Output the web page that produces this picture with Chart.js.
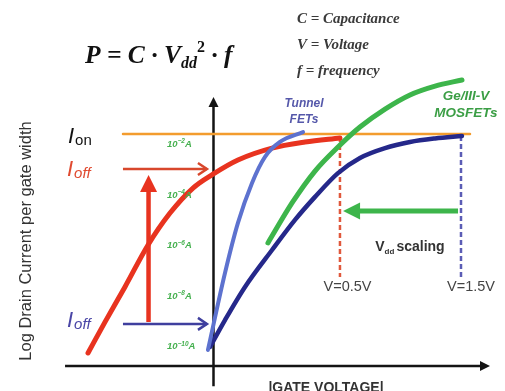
<!DOCTYPE html>
<html>
<head>
<meta charset="utf-8">
<script src="https://cdn.jsdelivr.net/npm/chart.js@4.4.0/dist/chart.umd.min.js"></script>
<style>
  html, body { margin: 0; padding: 0; background: #fff; }
  #wrap { width: 505px; height: 391px; }
</style>
</head>
<body>
<div id="wrap"><canvas id="chart" width="505" height="391"></canvas></div>
<script>
// Gate voltage (a.u.) vs log10 drain current per gate width (A)

// plot window
const X_MIN = -1.7287, X_MAX = 2.3603;
const Y_MIN = -11.783, Y_MAX = 3.672;

// y tick labels: 10^exp A
const tickLogI = [-2, -4, -6, -8, -10];
const tickExp = ["\u22122", "\u22124", "\u22126", "\u22128", "\u221210"];

// conventional MOSFET, high Ioff at low Vdd
const redV = [-1.016, -0.879, -0.717, -0.530, -0.352, -0.166, -0.004, 0.198, 0.474, 0.741, 1.024];
const redLogI = [-10.28, -9.06, -7.67, -6.01, -4.75, -3.76, -3.21, -2.65, -2.18, -1.94, -1.78];

// tunnel FET
const tunnelV = [-0.045, 0.093, 0.198, 0.312, 0.417, 0.538, 0.725];
const tunnelLogI = [-10.16, -7.12, -5.14, -3.56, -2.53, -1.94, -1.55];

// conventional MOSFET at Vdd = 1.5V
const navyV = [-0.028, 0.093, 0.255, 0.474, 0.660, 0.822, 1.008, 1.186, 1.389, 1.591, 1.794, 2.012];
const navyLogI = [-10.04, -8.98, -7.67, -6.21, -5.02, -4.11, -3.17, -2.57, -2.18, -1.94, -1.80, -1.70];

// Ge / III-V MOSFET
const greenV = [0.441, 0.636, 0.822, 1.008, 1.186, 1.389, 1.591, 1.794, 2.012];
const greenLogI = [-5.93, -4.35, -3.09, -2.14, -1.35, -0.64, -0.08, 0.27, 0.51];

// Ion level
const ionLogI = -1.62;
const ionV = [-0.733, 2.077];

// Vdd markers
const vddV = [1.024, 2.004];
const vddTopLogI = [-1.74, -1.70];
const vddBottomLogI = -7.28;
const vddLabels = ["V=0.5V", "V=1.5V"];

function pts(xs, ys) {
  return xs.map((v, i) => ({ x: v, y: ys[i] }));
}

function curve(label, xs, ys, color, width, order) {
  return {
    label,
    data: pts(xs, ys),
    showLine: true,
    borderColor: color,
    borderWidth: width,
    borderCapStyle: "round",
    cubicInterpolationMode: "monotone",
    pointRadius: 0,
    order,
  };
}

function drawLine(ctx, x1, y1, x2, y2) {
  ctx.beginPath();
  ctx.moveTo(x1, y1);
  ctx.lineTo(x2, y2);
  ctx.stroke();
}

function filledHead(ctx, tx, ty, ang, len, half) {
  ctx.save();
  ctx.translate(tx, ty);
  ctx.rotate(ang);
  ctx.beginPath();
  ctx.moveTo(0, 0);
  ctx.lineTo(-len, -half);
  ctx.lineTo(-len, half);
  ctx.closePath();
  ctx.fill();
  ctx.restore();
}

function openHead(ctx, tx, ty, ang, len, half) {
  ctx.save();
  ctx.translate(tx, ty);
  ctx.rotate(ang);
  ctx.beginPath();
  ctx.moveTo(-len, -half);
  ctx.lineTo(0, 0);
  ctx.lineTo(-len, half);
  ctx.stroke();
  ctx.restore();
}

// draw text pieces one after the other
function runs(ctx, x, y, parts, align) {
  let total = 0;
  parts.forEach((p) => {
    ctx.font = p.font;
    total += ctx.measureText(p.t).width + (p.gap || 0);
  });
  let cx = align === "center" ? x - total / 2 : x;
  ctx.textAlign = "left";
  parts.forEach((p) => {
    ctx.font = p.font;
    if (p.color) ctx.fillStyle = p.color;
    ctx.fillText(p.t, cx, y + (p.dy || 0));
    cx += ctx.measureText(p.t).width + (p.gap || 0);
  });
}

const overlay = {
  id: "overlay",
  beforeDatasetsDraw(chart) {
    const { ctx } = chart;
    const x = chart.scales.x, y = chart.scales.y;
    ctx.save();
    ctx.strokeStyle = "#141414";
    ctx.fillStyle = "#141414";
    ctx.lineWidth = 2.5;

    // vertical axis with arrow
    const ax = x.getPixelForValue(0);
    const topY = y.getPixelForValue(-0.16);
    drawLine(ctx, ax, y.getPixelForValue(-11.6), ax, topY + 8);
    filledHead(ctx, ax, topY, -Math.PI / 2, 10, 5);

    // horizontal axis with arrow
    const ay = y.getPixelForValue(-10.79);
    const rightX = x.getPixelForValue(2.239);
    drawLine(ctx, x.getPixelForValue(-1.202), ay, rightX - 8, ay);
    filledHead(ctx, rightX, ay, 0, 10, 5);

    // Vdd dashed markers
    ctx.lineWidth = 2.5;
    ctx.setLineDash([5, 3]);
    const dashColors = ["#e0583c", "#5b5db5"];
    vddV.forEach((v, i) => {
      ctx.strokeStyle = dashColors[i];
      drawLine(ctx, x.getPixelForValue(v), y.getPixelForValue(vddTopLogI[i]),
        x.getPixelForValue(v), y.getPixelForValue(vddBottomLogI));
    });
    ctx.setLineDash([]);
    ctx.restore();
  },
  afterDatasetsDraw(chart) {
    const { ctx } = chart;
    const x = chart.scales.x, y = chart.scales.y;
    ctx.save();
    ctx.textBaseline = "alphabetic";

    // y tick labels
    ctx.fillStyle = "#45b04f";
    tickLogI.forEach((l, i) => {
      const py = y.getPixelForValue(l) + 3.5;
      runs(ctx, x.getPixelForValue(-0.377), py, [
        { t: "10", font: "italic bold 9.5px Arial" },
        { t: tickExp[i], font: "italic bold 6.5px Arial", dy: -3.5 },
        { t: "A", font: "italic bold 9.5px Arial" },
      ]);
    });

    // big red arrow (Ioff increase)
    ctx.strokeStyle = "#e8331f";
    ctx.fillStyle = "#e8331f";
    ctx.lineWidth = 4.5;
    const rx = x.getPixelForValue(-0.526);
    const rTip = y.getPixelForValue(-3.25);
    drawLine(ctx, rx, y.getPixelForValue(-9.06), rx, rTip + 14);
    filledHead(ctx, rx, rTip, -Math.PI / 2, 17, 8.5);

    // thin Ioff arrows
    ctx.lineWidth = 2.5;
    ctx.strokeStyle = "#d8472c";
    let hy = y.getPixelForValue(-3.01);
    let x1 = x.getPixelForValue(-0.733), x2 = x.getPixelForValue(-0.053);
    drawLine(ctx, x1, hy, x2, hy);
    openHead(ctx, x2, hy, 0, 9, 6);
    ctx.strokeStyle = "#3f3f9e";
    hy = y.getPixelForValue(-9.13);
    drawLine(ctx, x1, hy, x2, hy);
    openHead(ctx, x2, hy, 0, 9, 6);

    // Vdd scaling arrow
    ctx.strokeStyle = "#3db54b";
    ctx.fillStyle = "#3db54b";
    ctx.lineWidth = 5;
    hy = y.getPixelForValue(-4.67);
    const gTip = x.getPixelForValue(1.049);
    drawLine(ctx, x.getPixelForValue(1.980), hy, gTip + 14, hy);
    filledHead(ctx, gTip, hy, Math.PI, 17, 8.5);

    // Vdd labels
    ctx.fillStyle = "#444";
    ctx.textAlign = "center";
    ctx.font = "14.5px Arial";
    const vLabelY = y.getPixelForValue(-7.85);
    ctx.fillText(vddLabels[0], x.getPixelForValue(1.085), vLabelY);
    ctx.fillText(vddLabels[1], x.getPixelForValue(2.085), vLabelY);

    runs(ctx, x.getPixelForValue(1.31), y.getPixelForValue(-6.25), [
      { t: "V", font: "bold 14px Arial", color: "#333" },
      { t: "dd", font: "bold 8px Arial", dy: 3, gap: 2 },
      { t: "scaling", font: "bold 14px Arial" },
    ]);

    // I labels
    runs(ctx, 68, 143, [
      { t: "I", font: "italic 22px Arial", color: "#111", gap: 1 },
      { t: "on", font: "15px Arial", dy: 2 },
    ]);
    runs(ctx, 67, 176, [
      { t: "I", font: "italic 22px Arial", color: "#e04a30", gap: 1 },
      { t: "off", font: "italic 15px Arial", dy: 2 },
    ]);
    runs(ctx, 67, 327, [
      { t: "I", font: "italic 22px Arial", color: "#4a46a6", gap: 1 },
      { t: "off", font: "italic 15px Arial", dy: 2 },
    ]);

    // curve labels
    ctx.textAlign = "center";
    ctx.fillStyle = "#5558aa";
    ctx.font = "italic bold 12px Arial";
    ctx.fillText("Tunnel", 304, 107);
    ctx.fillText("FETs", 304, 123);
    ctx.fillStyle = "#3b9e45";
    ctx.font = "italic bold 13.5px Arial";
    ctx.fillText("Ge/III-V", 466, 100);
    ctx.fillText("MOSFETs", 466, 117);

    // power formula
    const serif = '"Liberation Serif"';
    runs(ctx, 85, 63, [
      { t: "P = C \u00b7 V", font: "italic bold 25.5px " + serif, color: "#111" },
      { t: "dd", font: "italic bold 16px " + serif, dy: 5 },
      { t: "2", font: "bold 16px " + serif, dy: -11 },
      { t: " \u00b7 f", font: "italic bold 25.5px " + serif },
    ]);

    ctx.fillStyle = "#3a3a3a";
    ctx.font = "italic bold 15px " + serif;
    ctx.textAlign = "left";
    ctx.fillText("C = Capacitance", 297, 23);
    ctx.fillText("V = Voltage", 297, 49);
    ctx.fillText("f = frequency", 297, 75);

    // axis titles
    ctx.fillStyle = "#333";
    ctx.textAlign = "center";
    ctx.font = "bold 14px Arial";
    ctx.fillText("|GATE VOLTAGE|", 326, 392);
    ctx.font = "16.5px Arial";
    ctx.save();
    ctx.translate(31, 241);
    ctx.rotate(-Math.PI / 2);
    ctx.fillText("Log Drain Current per gate width", 0, 0);
    ctx.restore();

    ctx.restore();
  },
};

new Chart(document.getElementById("chart"), {
  type: "scatter",
  data: {
    datasets: [
      curve("Ge/III-V MOSFETs", greenV, greenLogI, "#3db54b", 5, 1),
      curve("Tunnel FETs", tunnelV, tunnelLogI, "#5d72cf", 4, 2),
      curve("MOSFET (1.5V)", navyV, navyLogI, "#25288a", 4.5, 3),
      curve("MOSFET (0.5V)", redV, redLogI, "#e8331f", 5, 4),
      curve("Ion", ionV, [ionLogI, ionLogI], "#f39c2e", 2.5, 5),
    ],
  },
  options: {
    responsive: false,
    animation: false,
    devicePixelRatio: 1,
    layout: { padding: 0 },
    plugins: { legend: { display: false }, tooltip: { enabled: false } },
    scales: {
      x: { type: "linear", min: X_MIN, max: X_MAX, display: false },
      y: { type: "linear", min: Y_MIN, max: Y_MAX, display: false },
    },
  },
  plugins: [overlay],
});
</script>
</body>
</html>
